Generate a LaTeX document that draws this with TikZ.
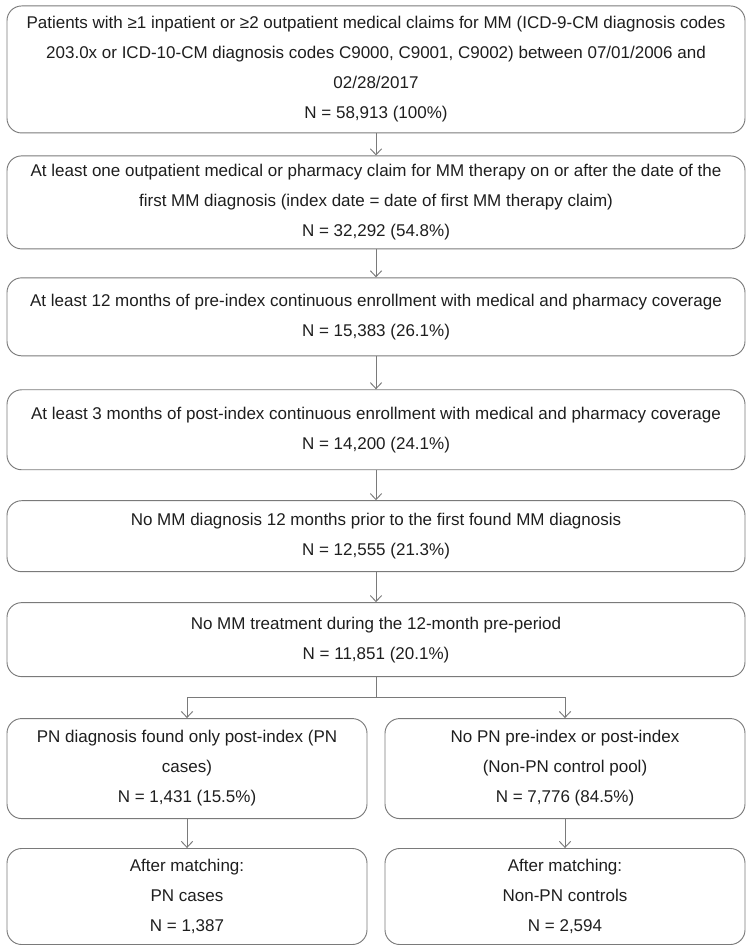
\documentclass[tikz,border=0pt]{standalone}
\usepackage{fontspec}
\setmainfont{Liberation Sans}
\usetikzlibrary{positioning, arrows.meta}
\definecolor{edgegray}{HTML}{7A7A7A}
\definecolor{txtgray}{HTML}{1E1E1E}

\begin{document}
\begin{tikzpicture}[
        box/.style={draw=edgegray, line width=0.7pt, rounded corners=11pt, align=center,
            text=txtgray, font=\fontsize{12.75}{22.5}\selectfont, inner xsep=2pt},
        wide/.style={box, minimum width=553.5pt},
        half/.style={box, minimum width=270pt},
        edge/.style={draw=edgegray, line width=0.7pt},
        arr/.style={edge, -{Straight Barb[length=4.5pt,width=8.5pt]}}
    ]
        \useasboundingbox (0,0) rectangle (563.25pt,-711pt);
        \node[wide, minimum height=95.25pt] (b1) at (282pt,-52.1pt)
            {Patients with ≥1 inpatient or ≥2 outpatient medical claims for MM (ICD-9-CM diagnosis codes\\
             203.0x or ICD-10-CM diagnosis codes C9000, C9001, C9002) between 07/01/2006 and\\
             02/28/2017\\ N = 58,913 (100\%)};
        \node[wide, minimum height=69.75pt, below=16.5pt of b1] (b2)
            {At least one outpatient medical or pharmacy claim for MM therapy on or after the date of the\\
             first MM diagnosis (index date = date of first MM therapy claim)\\ N = 32,292 (54.8\%)};
        \node[wide, minimum height=58.5pt, below=21pt of b2] (b3)
            {At least 12 months of pre-index continuous enrollment with medical and pharmacy coverage\\
             N = 15,383 (26.1\%)};
        \node[wide, minimum height=60pt, below=24.75pt of b3] (b4)
            {At least 3 months of post-index continuous enrollment with medical and pharmacy coverage\\
             N = 14,200 (24.1\%)};
        \node[wide, minimum height=53.25pt, below=22.5pt of b4] (b5)
            {No MM diagnosis 12 months prior to the first found MM diagnosis\\ N = 12,555 (21.3\%)};
        \node[wide, minimum height=55.5pt, below=22.5pt of b5] (b6)
            {No MM treatment during the 12-month pre-period\\ N = 11,851 (20.1\%)};
        \coordinate[below=15pt of b6] (split);
        \node[half, minimum height=75pt, below=30.75pt of b6.south west, anchor=north west] (l1)
            {PN diagnosis found only post-index (PN\\ cases)\\ N = 1,431 (15.5\%)};
        \node[half, minimum height=75pt, below=30.75pt of b6.south east, anchor=north east] (r1)
            {No PN pre-index or post-index\\ (Non-PN control pool)\\ N = 7,776 (84.5\%)};
        \node[half, minimum height=72pt, below=21.75pt of l1] (l2)
            {After matching:\\ PN cases\\ N = 1,387};
        \node[half, minimum height=72pt, below=21.75pt of r1] (r2)
            {After matching:\\ Non-PN controls\\ N = 2,594};
        \draw[arr] (b1) -- (b2);
        \draw[arr] (b2) -- (b3);
        \draw[arr] (b3) -- (b4);
        \draw[arr] (b4) -- (b5);
        \draw[arr] (b5) -- (b6);
        \draw[edge] (b6) -- (split);
        \draw[arr] (split) -| (l1);
        \draw[arr] (split) -| (r1);
        \draw[arr] (l1) -- (l2);
        \draw[arr] (r1) -- (r2);
    \end{tikzpicture}
\end{document}
